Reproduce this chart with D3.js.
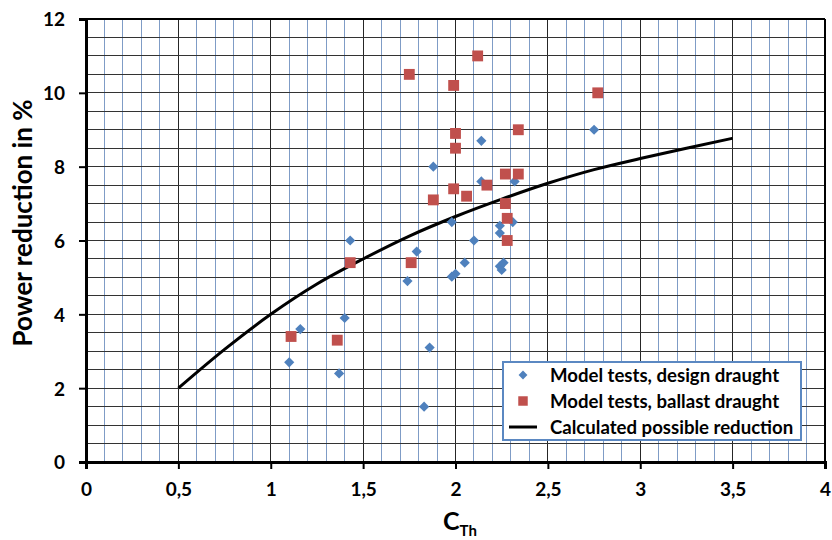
<!DOCTYPE html>
<html>
<head>
<meta charset="utf-8">
<script src="https://cdn.jsdelivr.net/npm/d3@7"></script>
<style>
  html, body { margin: 0; padding: 0; background: #fff; }
  svg { display: block; font-family: Lato, "Open Sans", sans-serif; font-weight: 700; }
</style>
</head>
<body>
<svg id="chart" width="832" height="540"></svg>
<script>
// Model tests, design draught (C_Th, power reduction %)
const designX = [1.10, 1.16, 1.37, 1.40, 1.43, 1.74, 1.79, 1.83, 1.86, 1.88, 1.98, 1.98, 2.00, 2.05, 2.10, 2.14, 2.14, 2.24, 2.24, 2.24, 2.25, 2.26, 2.31, 2.32, 2.75];
const designY = [2.7, 3.6, 2.4, 3.9, 6.0, 4.9, 5.7, 1.5, 3.1, 8.0, 6.5, 5.02, 5.1, 5.4, 6.0, 8.7, 7.6, 6.4, 6.2, 5.3, 5.2, 5.4, 6.5, 7.6, 9.0];

// Model tests, ballast draught
const ballastX = [1.11, 1.36, 1.43, 1.75, 1.76, 1.88, 1.99, 1.99, 2.00, 2.00, 2.06, 2.12, 2.17, 2.27, 2.27, 2.28, 2.28, 2.34, 2.34, 2.77];
const ballastY = [3.4, 3.3, 5.4, 10.5, 5.4, 7.1, 10.2, 7.4, 8.9, 8.5, 7.2, 11.0, 7.5, 7.8, 7.0, 6.6, 6.0, 7.8, 9.0, 10.0];

// Calculated possible reduction
const calcX = [0.5, 0.75, 1.0, 1.25, 1.5, 1.75, 2.0, 2.25, 2.5, 2.75, 3.0, 3.25, 3.5];
const calcY = [2.0, 3.05, 4.0, 4.82, 5.5, 6.12, 6.65, 7.12, 7.55, 7.92, 8.22, 8.5, 8.77];

// Axis ticks
const xTickValues = [0, 0.5, 1, 1.5, 2, 2.5, 3, 3.5, 4];
const yTickValues = [0, 2, 4, 6, 8, 10, 12];

const legendLabels = ["Model tests, design draught", "Model tests, ballast draught", "Calculated possible reduction"];

const BLUE = "#4f81bd";
const RED = "#c0504d";

const svg = d3.select("#chart");
const plot = { left: 86, right: 825, top: 19, bottom: 462 };

const x = d3.scaleLinear().domain([0, 4]).range([plot.left, plot.right]);
const y = d3.scaleLinear().domain([0, 12]).range([plot.bottom, plot.top]);

const commaFmt = v => String(v).replace(".", ",");

// Grid: fine vertical lines every 0.1, dark ones every 0.5; horizontal every 0.5
const grid = svg.append("g").attr("shape-rendering", "crispEdges");
const minorX = d3.range(1, 40).map(i => i / 10).filter(v => Math.round(v * 10) % 5 !== 0);
grid.selectAll("line.vminor").data(minorX).join("line")
  .attr("x1", d => x(d)).attr("x2", d => x(d))
  .attr("y1", plot.top).attr("y2", plot.bottom)
  .attr("stroke", "#7f9cc6").attr("stroke-width", 1);
const majorX = d3.range(1, 8).map(i => i / 2);
grid.selectAll("line.vmajor").data(majorX).join("line")
  .attr("x1", d => x(d)).attr("x2", d => x(d))
  .attr("y1", plot.top).attr("y2", plot.bottom)
  .attr("stroke", "#262626").attr("stroke-width", 1);
const hLines = d3.range(1, 24).map(i => i / 2);
grid.selectAll("line.h").data(hLines).join("line")
  .attr("x1", plot.left).attr("x2", plot.right)
  .attr("y1", d => y(d)).attr("y2", d => y(d))
  .attr("stroke", "#333").attr("stroke-width", 1);

// Frame: top and right edges
svg.append("line").attr("x1", plot.left).attr("x2", plot.right)
  .attr("y1", plot.top).attr("y2", plot.top).attr("stroke", "#000").attr("stroke-width", 2);
svg.append("line").attr("x1", plot.right).attr("x2", plot.right)
  .attr("y1", plot.top).attr("y2", plot.bottom).attr("stroke", "#000").attr("stroke-width", 2);

// Axes
const xAxis = d3.axisBottom(x).tickValues(xTickValues).tickFormat(commaFmt).tickSize(7).tickPadding(14);
const yAxis = d3.axisLeft(y).tickValues(yTickValues).tickFormat(commaFmt).tickSize(7).tickPadding(14);

const gx = svg.append("g").attr("transform", `translate(0,${plot.bottom})`).call(xAxis);
const gy = svg.append("g").attr("transform", `translate(${plot.left},0)`).call(yAxis);
[gx, gy].forEach(g => {
  g.select(".domain").attr("stroke", "#000").attr("stroke-width", 3);
  g.selectAll(".tick line").attr("stroke", "#000").attr("stroke-width", 2);
  g.selectAll(".tick text").attr("fill", "#000").attr("font-size", 19)
    .attr("font-family", "Lato, sans-serif").attr("font-weight", 700);
});
gy.selectAll(".tick text").attr("dy", "0.36em");

// Calculated curve
const curve = d3.line().x(d => x(d[0])).y(d => y(d[1])).curve(d3.curveMonotoneX);
svg.append("path")
  .datum(calcX.map((v, i) => [v, calcY[i]]))
  .attr("d", curve)
  .attr("fill", "none").attr("stroke", "#000").attr("stroke-width", 3);

// Diamond and square markers
const diamond = d3.symbol().type(d3.symbolDiamond2).size(66);
const square = d3.symbol().type(d3.symbolSquare).size(118);

svg.append("g").selectAll("path")
  .data(designX.map((v, i) => [v, designY[i]]))
  .join("path")
  .attr("d", diamond)
  .attr("transform", d => `translate(${x(d[0])},${y(d[1])})`)
  .attr("fill", BLUE);

svg.append("g").selectAll("path")
  .data(ballastX.map((v, i) => [v, ballastY[i]]))
  .join("path")
  .attr("d", square)
  .attr("transform", d => `translate(${x(d[0])},${y(d[1])})`)
  .attr("fill", RED);

// Axis titles
svg.append("text")
  .attr("transform", "translate(32,223) rotate(-90)")
  .attr("text-anchor", "middle")
  .attr("font-size", 26)
  .text("Power reduction in %");

const xt = svg.append("text").attr("x", 460).attr("y", 530).attr("text-anchor", "middle");
xt.append("tspan").attr("font-size", 25).text("C");
xt.append("tspan").attr("font-size", 15).attr("dy", 6).text("Th");

// Legend
const lg = svg.append("g").attr("transform", "translate(503,362)");
lg.append("rect").attr("width", 298).attr("height", 78)
  .attr("fill", "#fff").attr("stroke", "#5b88c2").attr("stroke-width", 2);
const rowY = [13, 39, 65];
lg.append("path").attr("d", d3.symbol().type(d3.symbolDiamond2).size(50))
  .attr("transform", `translate(20,${rowY[0]})`).attr("fill", BLUE);
lg.append("path").attr("d", d3.symbol().type(d3.symbolSquare).size(90))
  .attr("transform", `translate(20,${rowY[1]})`).attr("fill", RED);
lg.append("line").attr("x1", 6).attr("x2", 34).attr("y1", rowY[2]).attr("y2", rowY[2])
  .attr("stroke", "#000").attr("stroke-width", 3);
lg.selectAll("text.lbl").data(legendLabels).join("text")
  .attr("x", 47).attr("y", (d, i) => rowY[i]).attr("dy", "0.36em")
  .attr("font-size", 18.6).attr("fill", "#000")
  .text(d => d);
</script>
</body>
</html>
